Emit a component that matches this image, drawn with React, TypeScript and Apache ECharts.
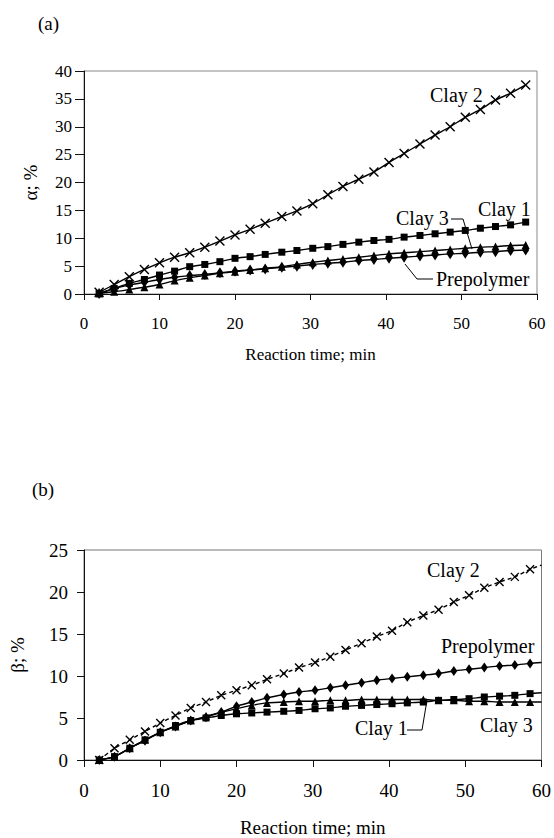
import React, { useEffect, useRef } from "react";
import * as echarts from "echarts";

// Reaction time (min) of each measurement
const TIME = [2, 4, 6, 8, 10, 12, 14, 16, 18, 20, 22, 24, 26.2, 28.2, 30.3, 32.3, 34.3, 36.4, 38.4, 40.4, 42.4, 44.5, 46.5, 48.5, 50.5, 52.5, 54.5, 56.5, 58.5];
const TIME_END = 60;

// (a) alpha, %
const A_CLAY1 = [0.1, 1.0, 1.9, 2.6, 3.4, 4.1, 4.9, 5.3, 5.8, 6.4, 6.7, 7.1, 7.5, 7.8, 8.2, 8.5, 8.9, 9.3, 9.6, 9.8, 10.2, 10.5, 10.8, 11.1, 11.4, 11.8, 12.1, 12.4, 12.9];
const A_CLAY2 = [0.3, 1.7, 3.1, 4.4, 5.6, 6.6, 7.4, 8.4, 9.5, 10.6, 11.6, 12.7, 13.9, 14.9, 16.2, 17.8, 19.3, 20.6, 21.9, 23.6, 25.2, 26.9, 28.5, 30.0, 31.7, 33.1, 34.8, 36.0, 37.5];
const A_CLAY3 = [0.1, 0.4, 0.8, 1.2, 1.7, 2.4, 2.9, 3.3, 3.7, 4.0, 4.3, 4.6, 4.9, 5.3, 5.7, 6.0, 6.3, 6.6, 6.9, 7.2, 7.4, 7.6, 7.8, 8.0, 8.2, 8.4, 8.5, 8.7, 8.8];
const A_PREPOLYMER = [0.1, 1.0, 1.6, 2.1, 2.6, 3.0, 3.3, 3.5, 3.8, 4.1, 4.3, 4.5, 4.8, 5.0, 5.3, 5.5, 5.7, 6.0, 6.2, 6.4, 6.6, 6.8, 7.0, 7.2, 7.3, 7.5, 7.6, 7.8, 7.9];

// (b) beta, %  (+ value where the curve meets the right frame at 60 min)
const B_CLAY1 = [0, 0.4, 1.4, 2.4, 3.3, 4.1, 4.7, 5.0, 5.3, 5.5, 5.6, 5.7, 5.8, 5.9, 6.1, 6.2, 6.4, 6.5, 6.6, 6.7, 6.8, 6.9, 7.1, 7.2, 7.3, 7.5, 7.6, 7.7, 7.9];
const B_CLAY1_END = 8.0;
const B_CLAY2 = [0, 1.4, 2.4, 3.4, 4.4, 5.3, 6.2, 6.9, 7.7, 8.3, 8.9, 9.6, 10.3, 11.0, 11.6, 12.3, 13.1, 13.9, 14.7, 15.4, 16.4, 17.2, 17.9, 18.8, 19.6, 20.5, 21.2, 21.8, 22.7];
const B_CLAY2_END = 23.2;
const B_CLAY3 = [0, 0.4, 1.4, 2.4, 3.3, 4.0, 4.7, 5.2, 5.7, 6.1, 6.5, 6.8, 6.9, 7.0, 7.0, 7.1, 7.1, 7.2, 7.2, 7.2, 7.2, 7.2, 7.1, 7.1, 7.0, 7.0, 6.9, 6.9, 6.9];
const B_CLAY3_END = 6.9;
const B_PREPOLYMER = [0, 0.4, 1.4, 2.3, 3.3, 4.0, 4.7, 5.1, 5.7, 6.4, 6.9, 7.4, 7.8, 8.1, 8.3, 8.6, 8.9, 9.2, 9.5, 9.7, 9.9, 10.1, 10.3, 10.6, 10.8, 11.0, 11.2, 11.3, 11.5];
const B_PREPOLYMER_END = 11.6;

const X_TICKS = [0, 10, 20, 30, 40, 50, 60];
const A_Y_MAX = 40;
const B_Y_MAX = 25;

const FONT = "Liberation Serif";
const CROSS = "path://M0,0L10,10M10,0L0,10";

function pts(vals: number[]) {
  return vals.map((v, i) => [TIME[i], v]);
}
function ptsEnd(vals: number[], end: number) {
  return [...pts(vals), { value: [TIME_END, end], symbol: "none" }];
}

export default function App() {
  const ref = useRef<HTMLDivElement>(null);
  useEffect(() => {
    if (!ref.current) return;
    const chart = echarts.init(ref.current, null, { renderer: "svg" });

    const axisLine = { show: true, lineStyle: { color: "#111", width: 1 } };
    const mkX = (gi: number, fs: number, tickLen: number, nameGap: number, nameFs: number) => ({
      type: "value",
      gridIndex: gi,
      min: X_TICKS[0],
      max: X_TICKS[X_TICKS.length - 1],
      interval: 10,
      axisLine,
      axisTick: { show: true, inside: false, length: tickLen, lineStyle: { color: "#111" } },
      axisLabel: { color: "#000", fontFamily: FONT, fontSize: fs, margin: 21 },
      splitLine: { show: false },
      name: "Reaction time; min",
      nameLocation: "middle",
      nameGap,
      nameTextStyle: { color: "#000", fontFamily: FONT, fontSize: nameFs },
    });
    const mkY = (gi: number, max: number, name: string, fs: number, tickLen: number, margin: number, nameGap: number, nameFs: number) => ({
      type: "value",
      gridIndex: gi,
      min: 0,
      max,
      interval: 5,
      axisLine,
      axisTick: { show: true, inside: false, length: tickLen, lineStyle: { color: "#111" } },
      axisLabel: { color: "#000", fontFamily: FONT, fontSize: fs, margin },
      splitLine: { show: false },
      name,
      nameLocation: "middle",
      nameGap,
      nameRotate: 90,
      nameTextStyle: { color: "#000", fontFamily: FONT, fontSize: nameFs },
    });

    const line = (name: string, gi: number, data: any[], symbol: string, size: any, dashed = false) => ({
      name,
      type: "line",
      xAxisIndex: gi,
      yAxisIndex: gi,
      data,
      symbol,
      symbolSize: size,
      showSymbol: true,
      smooth: 0.2,
      lineStyle: { color: "#000", width: 1.4, type: dashed ? [4, 3] : "solid" },
      itemStyle: symbol === CROSS
        ? { color: "#000", borderColor: "#000", borderWidth: 1.4 }
        : { color: "#000", borderColor: "#000", borderWidth: 0 },
      z: 3,
    });

    const txt = (text: string, x: number, y: number, fs = 20) => ({
      type: "text",
      x,
      y,
      style: { text, font: `${fs}px ${FONT}`, fill: "#000", align: "left", verticalAlign: "middle" },
      z: 10,
    });
    const leader = (points: number[][]) => ({
      type: "polyline",
      shape: { points },
      style: { stroke: "#000", lineWidth: 1, fill: null },
      z: 10,
    });

    chart.setOption({
      animation: false,
      backgroundColor: "#fff",
      textStyle: { fontFamily: FONT },
      grid: [
        { left: 84, top: 71, right: 17, bottom: 544, show: true, borderColor: "#888", borderWidth: 1, backgroundColor: "transparent" },
        { left: 83, top: 550, right: 12, bottom: 77, show: true, borderColor: "#777", borderWidth: 1, backgroundColor: "transparent" },
      ],
      xAxis: [mkX(0, 17, 6, 52, 17), mkX(1, 19, 7, 58, 19)],
      yAxis: [
        mkY(0, A_Y_MAX, "α; %", 17, 9, 12, 44, 19),
        mkY(1, B_Y_MAX, "β; %", 19, 7, 16, 57, 19),
      ],
      series: [
        line("Clay 2", 0, pts(A_CLAY2), CROSS, 9),
        line("Clay 1", 0, pts(A_CLAY1), "rect", 7),
        line("Clay 3", 0, pts(A_CLAY3), "triangle", 8),
        line("Prepolymer", 0, pts(A_PREPOLYMER), "diamond", [7, 11]),
        line("Clay 2", 1, ptsEnd(B_CLAY2, B_CLAY2_END), CROSS, 8, true),
        line("Clay 1", 1, ptsEnd(B_CLAY1, B_CLAY1_END), "rect", 7),
        line("Clay 3", 1, ptsEnd(B_CLAY3, B_CLAY3_END), "triangle", 8),
        line("Prepolymer", 1, ptsEnd(B_PREPOLYMER, B_PREPOLYMER_END), "diamond", [7, 10]),
      ],
      graphic: [
        txt("(a)", 38, 23, 19),
        txt("(b)", 32, 489, 19),
        txt("Clay 2", 430, 95),
        txt("Clay 1", 478, 209),
        txt("Clay 3", 396, 218),
        txt("Prepolymer", 436, 279),
        leader([[451, 219], [463, 219], [472, 249]]),
        leader([[405, 264], [417, 279], [433, 279]]),
        txt("Clay 2", 427, 570),
        txt("Prepolymer", 441, 646),
        txt("Clay 1", 355, 728),
        txt("Clay 3", 480, 725),
        leader([[407, 730], [422, 730], [427, 700]]),
      ],
    });
    return () => chart.dispose();
  }, []);
  return <div ref={ref} style={{ position: "absolute", left: 0, top: 0, width: 554, height: 838 }} />;
}
